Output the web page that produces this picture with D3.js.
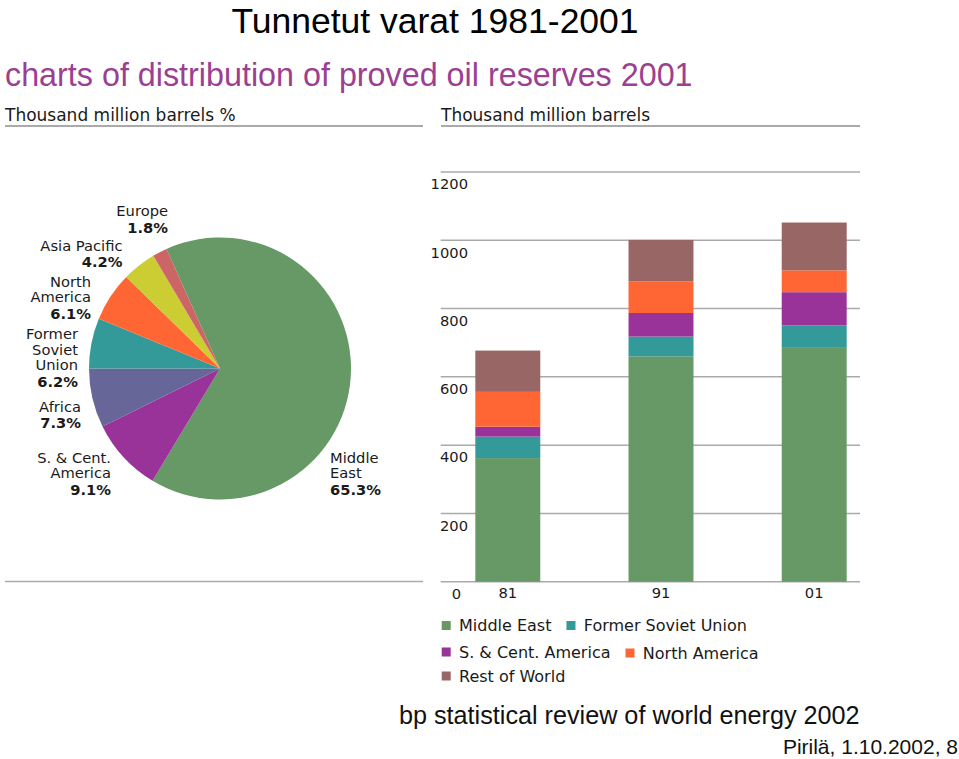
<!DOCTYPE html>
<html>
<head>
<meta charset="utf-8">
<script src="https://cdn.jsdelivr.net/npm/d3@7"></script>
<style>
  html, body { margin: 0; padding: 0; background: #fff; }
  svg { display: block; }
</style>
</head>
<body>
<svg id="chart" width="959" height="759"></svg>
<script>
// ---------- DATA ----------
const pieRegions = ["Middle East", "S. & Cent. America", "Africa", "Former Soviet Union", "North America", "Asia Pacific", "Europe"];
const pieShares = [65.3, 9.1, 7.3, 6.2, 6.1, 4.2, 1.8];
const pieLabelLines = [
  ["Middle", "East"],
  ["S. & Cent.", "America"],
  ["Africa"],
  ["Former", "Soviet", "Union"],
  ["North", "America"],
  ["Asia Pacific"],
  ["Europe"]
];

const years = ["81", "91", "01"];
const barSeries = ["Middle East", "Former Soviet Union", "S. & Cent. America", "North America", "Rest of World"];
const middleEast = [362, 660, 685];
const formerSovietUnion = [63, 58, 66];
const sCentAmerica = [29, 69, 97];
const northAmerica = [102, 93, 64];
const restOfWorld = [121, 121, 140];
const yTicks = [0, 200, 400, 600, 800, 1000, 1200];

// ---------- STYLE ----------
const pieColors = {
  "Middle East": "#669966",
  "S. & Cent. America": "#993399",
  "Africa": "#666699",
  "Former Soviet Union": "#339999",
  "North America": "#ff6633",
  "Asia Pacific": "#cccc33",
  "Europe": "#cc6666"
};
const barColors = {
  "Middle East": "#669966",
  "Former Soviet Union": "#339999",
  "S. & Cent. America": "#993399",
  "North America": "#ff6633",
  "Rest of World": "#996666"
};
const verd = "'DejaVu Sans', Verdana, sans-serif";
const arial = "'Liberation Sans', Arial, sans-serif";
const ink = "#1a1a1a";
const rule = "#aaaaaa";

const svg = d3.select("#chart");

// ---------- TITLES ----------
svg.append("text").attr("x", 435).attr("y", 32.5).attr("text-anchor", "middle")
  .attr("font-family", arial).attr("font-size", 35.5).attr("fill", "#000")
  .text("Tunnetut varat 1981-2001");
svg.append("text").attr("x", 5).attr("y", 86)
  .attr("font-family", arial).attr("font-size", 32.3).attr("fill", "#9b3f92")
  .text("charts of distribution of proved oil reserves 2001");

svg.append("text").attr("x", 5).attr("y", 121)
  .attr("font-family", verd).attr("font-size", 17).attr("fill", ink)
  .text("Thousand million barrels %");
svg.append("text").attr("x", 441).attr("y", 121)
  .attr("font-family", verd).attr("font-size", 17).attr("fill", ink)
  .text("Thousand million barrels");
svg.append("line").attr("x1", 5).attr("x2", 423).attr("y1", 126).attr("y2", 126)
  .attr("stroke", rule).attr("stroke-width", 2);
svg.append("line").attr("x1", 441).attr("x2", 860).attr("y1", 126).attr("y2", 126)
  .attr("stroke", rule).attr("stroke-width", 2);
// bottom rule of pie panel
svg.append("line").attr("x1", 5).attr("x2", 423).attr("y1", 581.5).attr("y2", 581.5)
  .attr("stroke", rule).attr("stroke-width", 1.5);

// ---------- PIE ----------
const pieData = pieRegions.map((r, i) => ({ region: r, value: pieShares[i], lines: pieLabelLines[i] }));
const total = d3.sum(pieShares);
// Former Soviet Union starts at 9 o'clock
const beforeFSU = d3.sum(pieShares.slice(0, 3));
const start = -Math.PI / 2 - 2 * Math.PI * beforeFSU / total;
const pie = d3.pie().sort(null).value(d => d.value).startAngle(start).endAngle(start + 2 * Math.PI);
const arc = d3.arc().innerRadius(0).outerRadius(131);
const pieG = svg.append("g").attr("transform", "translate(220,368.5)");
pieG.selectAll("path").data(pie(pieData)).join("path")
  .attr("d", arc).attr("fill", d => pieColors[d.data.region]);

// label layout (anchor x, baseline of first line, text-anchor)
const labelLayout = {
  "Europe": [168, 216, "end"],
  "Asia Pacific": [122.5, 250.5, "end"],
  "North America": [91, 286.5, "end"],
  "Former Soviet Union": [78, 339.3, "end"],
  "Africa": [81, 411.7, "end"],
  "S. & Cent. America": [111, 462.7, "end"],
  "Middle East": [330, 462.7, "start"]
};
pieData.forEach(d => {
  const [x, y, anchor] = labelLayout[d.region];
  const t = svg.append("text").attr("x", x).attr("y", y).attr("text-anchor", anchor)
    .attr("font-family", verd).attr("font-size", 14.7).attr("fill", ink);
  d.lines.forEach((ln, i) => {
    t.append("tspan").attr("x", x).attr("dy", i === 0 ? 0 : 15.3).text(ln);
  });
  t.append("tspan").attr("x", x).attr("dy", 16.7).attr("font-weight", "bold")
    .text(d3.format(".1f")(d.value) + "%");
});

// ---------- STACKED BARS ----------
const seriesArrays = [middleEast, formerSovietUnion, sCentAmerica, northAmerica, restOfWorld];
const rows = years.map((y, i) => {
  const o = { year: y };
  barSeries.forEach((s, k) => o[s] = seriesArrays[k][i]);
  return o;
});
const stack = d3.stack().keys(barSeries)(rows);

const x = d3.scaleBand().domain(years).range([431.2, 890.8]).paddingInner(0.576).paddingOuter(0.288);
const y = d3.scaleLinear().domain([0, 1200]).range([581.7, 172]);

// gridlines
svg.append("g").selectAll("line").data(yTicks).join("line")
  .attr("x1", 440.7).attr("x2", 860)
  .attr("y1", d => y(d)).attr("y2", d => y(d))
  .attr("stroke", rule).attr("stroke-width", 1.5);

svg.append("g").selectAll("g").data(stack).join("g")
  .attr("fill", d => barColors[d.key])
  .selectAll("rect").data(d => d).join("rect")
  .attr("x", d => x(d.data.year))
  .attr("width", x.bandwidth())
  .attr("y", d => y(d[1]))
  .attr("height", d => y(d[0]) - y(d[1]));

// y axis labels (below each gridline)
const yAxis = d3.axisLeft(y).tickValues(yTicks).tickSize(0).tickPadding(0).tickFormat(d3.format("d"));
const yAxisG = svg.append("g").attr("transform", "translate(468,12)").call(yAxis);
yAxisG.select(".domain").remove();
yAxisG.selectAll("text").attr("font-family", verd).attr("font-size", 14.7).attr("fill", ink)
  .attr("x", d => d === 0 ? -7 : 0);

// x axis labels
const xAxis = d3.axisBottom(x).tickSize(0).tickPadding(0);
const xAxisG = svg.append("g").attr("transform", "translate(0,588)").call(xAxis);
xAxisG.select(".domain").remove();
xAxisG.selectAll("text").attr("font-family", verd).attr("font-size", 14.7).attr("fill", ink).attr("dy", "0.71em");

// ---------- LEGEND ----------
const legendRows = [["Middle East", "Former Soviet Union"], ["S. & Cent. America", "North America"], ["Rest of World"]];
const legendRowY = [625.5, 652, 676];
legendRows.forEach((row, ri) => {
  let cx = 441.7;
  row.forEach((name, ci) => {
    const g = svg.append("g");
    const yy = legendRowY[ri] + (ci === 1 && ri === 1 ? 1 : 0);
    g.append("rect").attr("x", cx).attr("y", yy - 4.5).attr("width", 9).attr("height", 9)
      .attr("fill", barColors[name]);
    const t = g.append("text").attr("x", cx + 17.3).attr("y", yy).attr("dy", "0.36em")
      .attr("font-family", verd).attr("font-size", 16).attr("fill", ink).text(name);
    cx = cx + 17.3 + t.node().getComputedTextLength() + 15;
  });
});

// ---------- FOOTER ----------
svg.append("text").attr("x", 399).attr("y", 724)
  .attr("font-family", arial).attr("font-size", 25.2).attr("fill", "#111")
  .text("bp statistical review of world energy 2002");
svg.append("text").attr("x", 958).attr("y", 754).attr("text-anchor", "end")
  .attr("font-family", arial).attr("font-size", 21).attr("fill", "#111")
  .text("Pirilä, 1.10.2002, 8");
</script>
</body>
</html>
